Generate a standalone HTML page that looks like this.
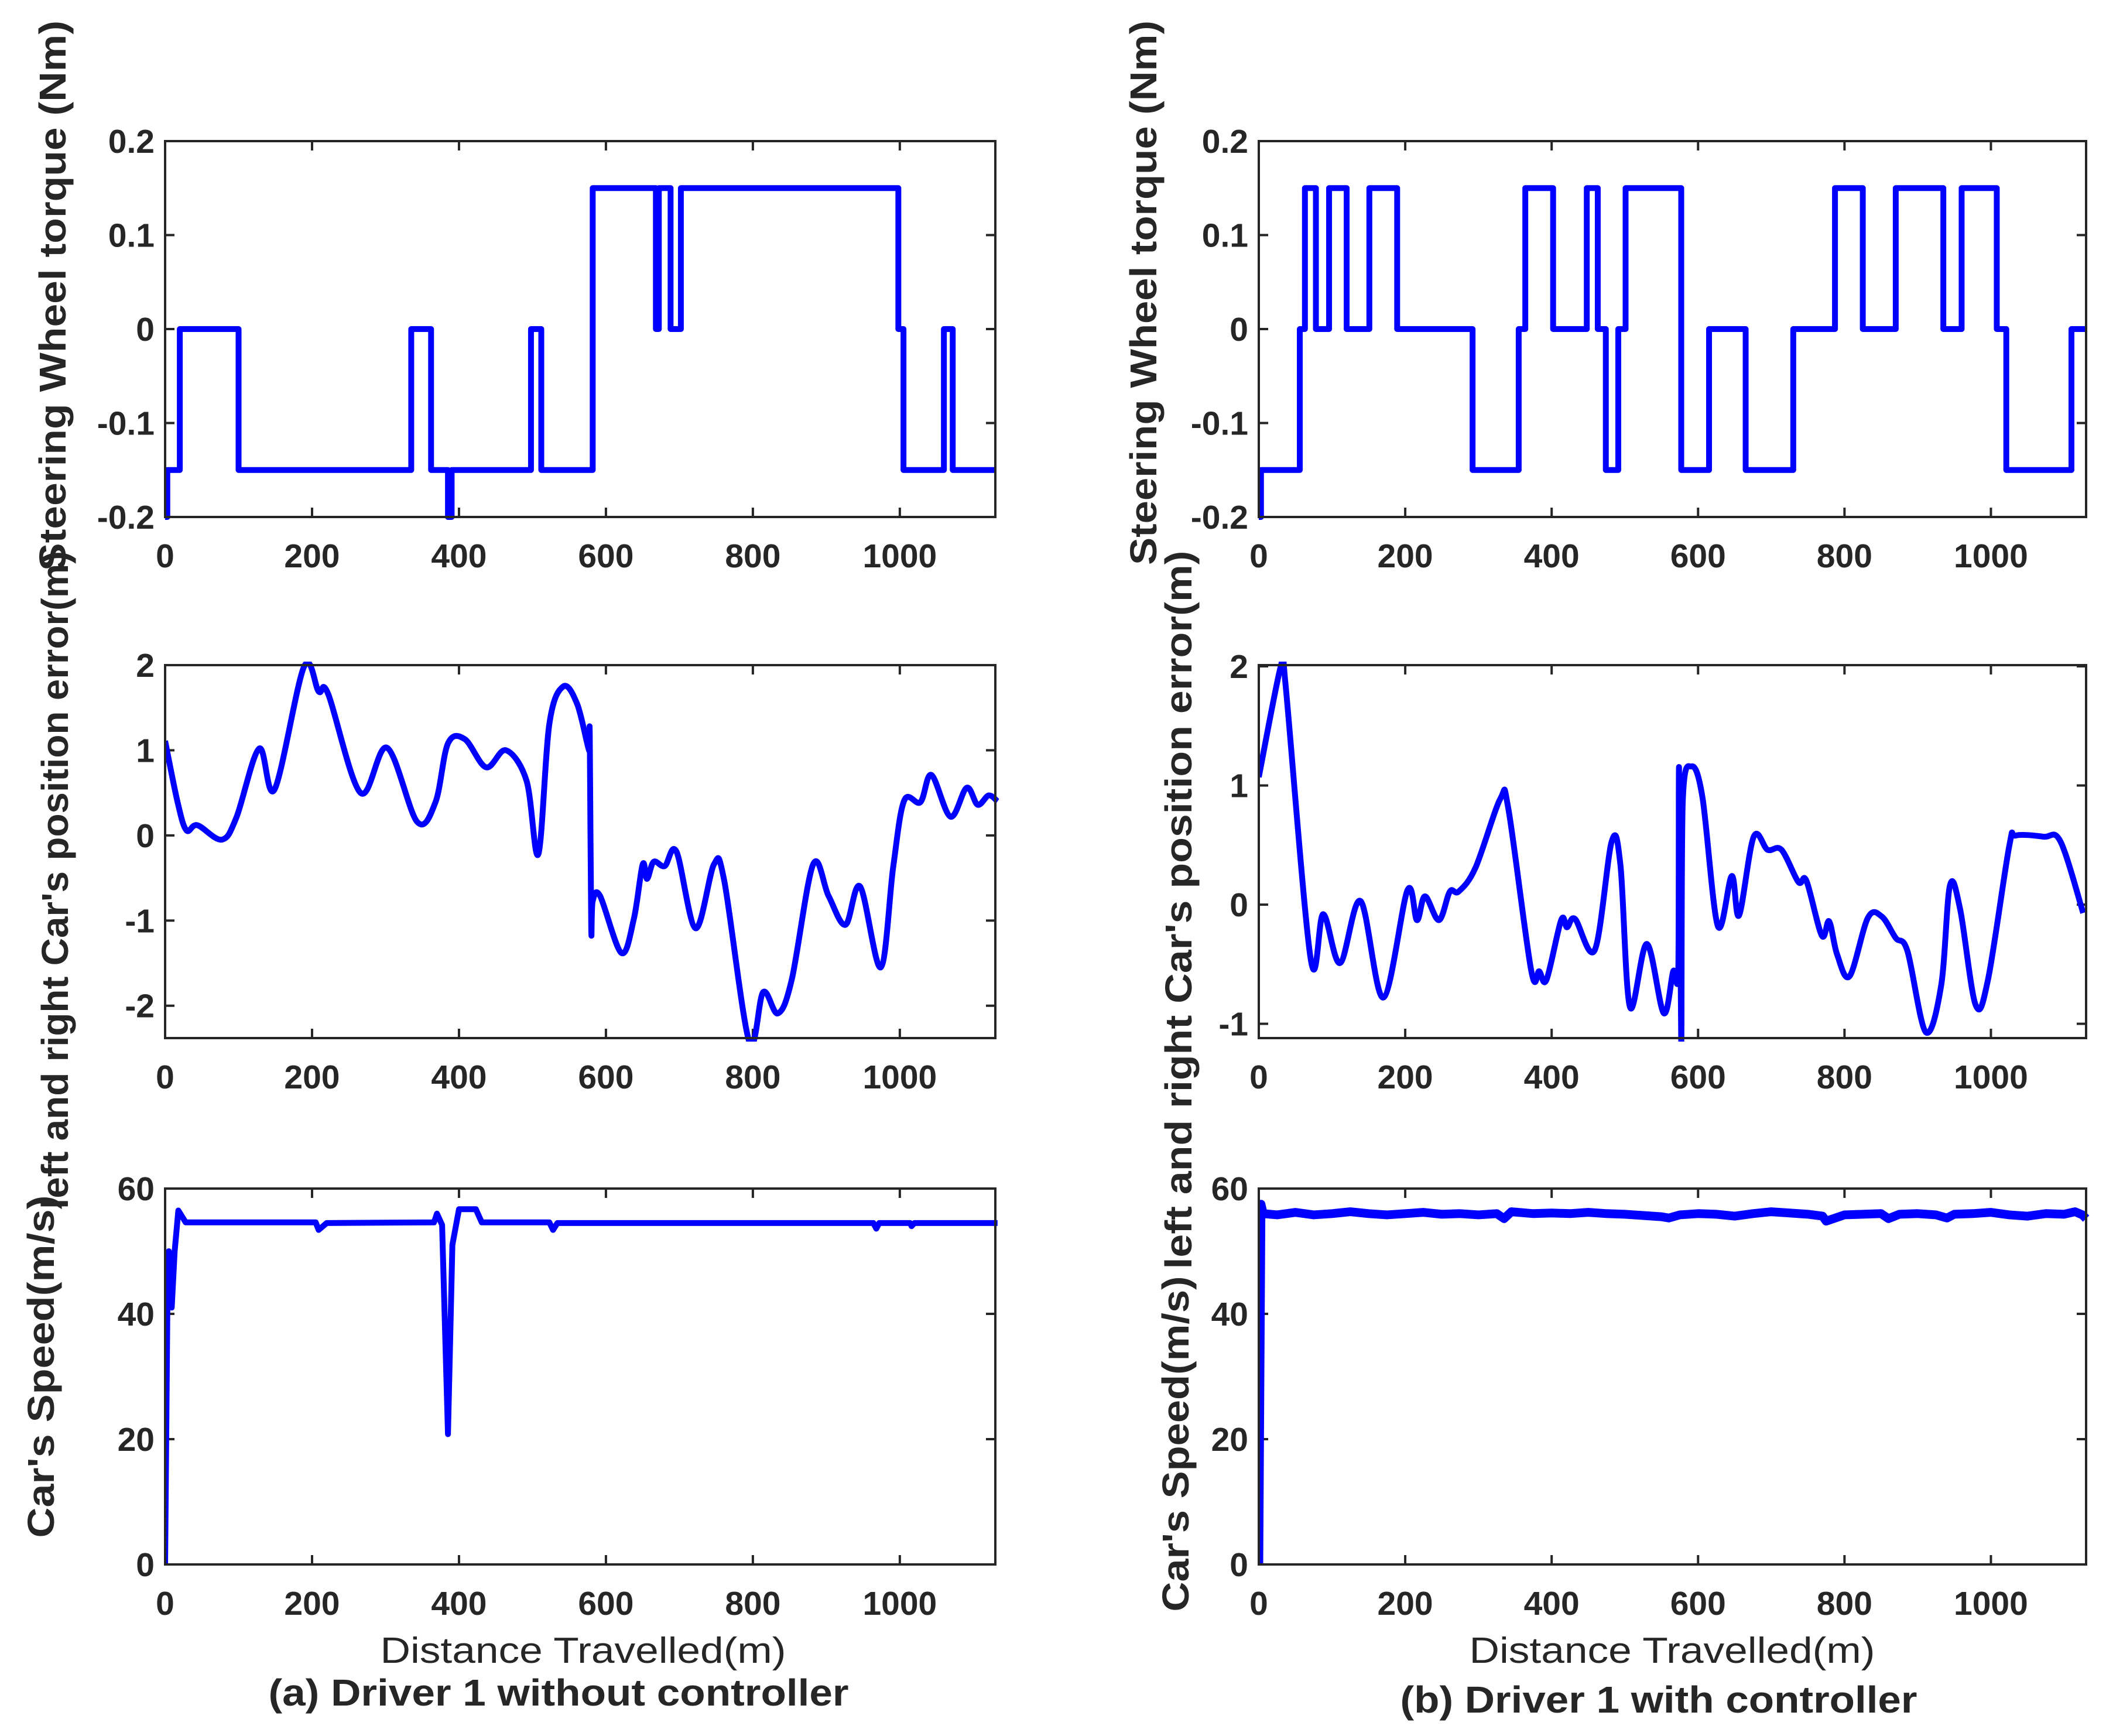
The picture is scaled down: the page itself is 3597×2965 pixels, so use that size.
<!DOCTYPE html>
<html><head><meta charset="utf-8"><style>
html,body{margin:0;padding:0;background:#fff}
svg{display:block}
text{font-family:"Liberation Sans",Arial,sans-serif;fill:#262626}
</style></head><body>
<svg id="fig" width="3597" height="2965" viewBox="0 0 3597 2965" xmlns="http://www.w3.org/2000/svg">
<rect width="3597" height="2965" fill="#fff"/>
<text x="996" y="2840" font-size="62" text-anchor="middle" textLength="693" lengthAdjust="spacingAndGlyphs">Distance Travelled(m)</text>
<text x="2856" y="2840" font-size="62" text-anchor="middle" textLength="693" lengthAdjust="spacingAndGlyphs">Distance Travelled(m)</text>
<text x="954" y="2913" font-size="64" font-weight="bold" text-anchor="middle" fill="#000" textLength="991" lengthAdjust="spacingAndGlyphs">(a) Driver 1 without controller</text>
<text x="2833" y="2925" font-size="64" font-weight="bold" text-anchor="middle" textLength="883" lengthAdjust="spacingAndGlyphs">(b) Driver 1 with controller</text>
</svg>
<script>
// ---- data ----
const xTicks=[0,200,400,600,800,1000];
const torqueTicks=[-0.2,-0.1,0,0.1,0.2];
const torqueTickLabels=["-0.2","-0.1","0","0.1","0.2"];
const errATicks=[-2,-1,0,1,2];
const errBTicks=[-1,0,1,2];
const speedTicks=[0,20,40,60];

const torqueA_x=[0,3,20,100,335,362,385,390,498,512,582,668,672,688,702,998,1005,1060,1072,1130];
const torqueA_v=[-0.2,-0.15,0,-0.15,0,-0.15,-0.2,-0.15,0,-0.15,0.15,0,0.15,0,0.15,0,-0.15,0,-0.15,-0.15];
const torqueB_x=[0,3,56,63,78,96,120,151,189,292,355,364,402,448,463,474,491,501,577,615,665,730,787,825,870,935,960,1008,1021,1110,1130];
const torqueB_v=[-0.2,-0.15,0,0.15,0,0.15,0,0.15,0,-0.15,0,0.15,0,0.15,0,-0.15,0,0.15,-0.15,0,-0.15,0,0.15,0,0.15,0,0.15,0,-0.15,0,0];

const errA_x=[0,17,29,44,77,97,128,149,189,209,222,266,302,343,368,385,408,437,464,492,508,523,542,561,577,578,580,582,592,621,638,650,656,665,680,696,722,747,761,795,814,834,853,882,903,926,946,974,991,1006,1028,1043,1069,1091,1106,1121,1133];
const errA_v=[1.11,0.39,0.06,0.12,-0.05,0.21,1.02,0.54,1.98,1.69,1.66,0.50,1.03,0.16,0.39,1.08,1.13,0.80,1.00,0.64,-0.22,1.31,1.75,1.54,1.00,1.17,-1.08,-0.77,-0.71,-1.38,-0.98,-0.34,-0.51,-0.31,-0.36,-0.19,-1.09,-0.34,-0.53,-2.42,-1.84,-2.09,-1.69,-0.34,-0.71,-1.05,-0.60,-1.55,-0.37,0.41,0.39,0.71,0.22,0.56,0.36,0.47,0.40];
const errB_x=[0,30,36,71,88,111,139,170,203,216,227,246,261,273,296,330,341,372,383,393,413,421,432,459,482,494,507,530,553,566,573,574,577,579,591,606,627,646,656,676,695,714,737,748,769,779,790,807,832,851,870,886,911,932,944,958,979,996,1025,1034,1072,1095,1126];
const errB_v=[1.07,2.0,1.88,-0.46,-0.08,-0.49,0.03,-0.78,0.12,-0.13,0.07,-0.13,0.11,0.11,0.31,0.89,0.80,-0.55,-0.56,-0.63,-0.13,-0.19,-0.12,-0.38,0.53,0.33,-0.86,-0.33,-0.91,-0.56,-0.55,1.15,-1.16,0.85,1.16,0.90,-0.18,0.24,-0.09,0.57,0.46,0.46,0.19,0.20,-0.26,-0.14,-0.42,-0.60,-0.11,-0.10,-0.28,-0.39,-1.07,-0.68,0.16,-0.04,-0.84,-0.63,0.49,0.58,0.57,0.53,-0.07];

const speedA_x=[0,3,5,9,13,18,28,205,209,220,366,370,377,385,391,400,423,431,523,528,534,964,968,972,1014,1016,1020,1133];
const speedA_v=[0,40,50,41,50,56.5,54.6,54.6,53.4,54.5,54.6,56,54.2,20.8,51,56.7,56.7,54.6,54.6,53.4,54.5,54.5,53.6,54.5,54.5,54,54.5,54.5];
const speedB_x=[0,3,6,25,50,75,100,125,150,175,200,225,250,275,300,325,335,345,375,400,425,450,475,500,525,550,560,575,600,625,650,675,700,725,750,770,775,800,825,850,860,875,900,925,940,950,975,1000,1025,1050,1075,1100,1115,1125,1130];
const speedB_v=[0,57.5,56,55.8,56.2,55.8,56,56.3,56,55.8,56,56.2,55.9,56,55.8,56,55.2,56.3,56,56.1,56,56.2,56,55.9,55.7,55.5,55.3,55.8,56,55.9,55.6,56,56.3,56.1,55.9,55.6,54.8,55.8,55.9,56,55.2,55.9,56,55.8,55.3,55.9,56,56.2,55.8,55.6,56,55.9,56.3,55.8,55.2];

// ---- layout ----
const svg=document.getElementById('fig');
const NS='http://www.w3.org/2000/svg';
const XMAX=1130;
function mk(tag,attrs,parent){const e=document.createElementNS(NS,tag);for(const k in attrs)e.setAttribute(k,attrs[k]);(parent||svg).appendChild(e);return e;}

function panel(o){
  const g=mk('g',{});
  
  
  const sx=v=>o.x0+(v/XMAX)*(o.x1-o.x0);
  const sy=v=>o.y1-(v-o.ymin)/(o.ymax-o.ymin)*(o.y1-o.y0);
  const cid='clip-'+o.name;
  const cp=mk('clipPath',{id:cid},g);
  mk('rect',{x:o.x0,y:o.y0-6,width:o.x1-o.x0+10,height:o.y1-o.y0+12},cp);
  xTicks.forEach(t=>{
    const X=sx(t);
    mk('line',{x1:X,x2:X,y1:o.y1,y2:o.y1-16,stroke:'#262626','stroke-width':4},g);
    mk('line',{x1:X,x2:X,y1:o.y0,y2:o.y0+16,stroke:'#262626','stroke-width':4},g);
    const tl=mk('text',{x:X,y:o.y1+86,'font-size':57,'font-weight':'bold','text-anchor':'middle'},g);
    
    
    tl.textContent=String(t);
  });
  o.yticks.forEach((t,i)=>{
    const Y=sy(t);
    mk('line',{x1:o.x0,x2:o.x0+16,y1:Y,y2:Y,stroke:'#262626','stroke-width':4},g);
    mk('line',{x1:o.x1,x2:o.x1-16,y1:Y,y2:Y,stroke:'#262626','stroke-width':4},g);
    const tl=mk('text',{x:o.x0-18,y:Y+20,'font-size':57,'font-weight':'bold','text-anchor':'end'},g);
    
    
    tl.textContent=o.ylabels?o.ylabels[i]:String(t);
  });
  let d='';
  const P=o.xs.map((x,i)=>[sx(x),sy(o.vs[i])]);
  if(o.step){
    P.forEach((p,i)=>{
      if(i===0)d+='M'+p[0]+' '+p[1];
      else d+=' L'+p[0]+' '+P[i-1][1]+' L'+p[0]+' '+p[1];
    });
  } else if(o.smooth){
    d='M'+P[0][0]+' '+P[0][1];
    for(let i=0;i<P.length-1;i++){
      const p0=P[Math.max(0,i-1)],p1=P[i],p2=P[i+1],p3=P[Math.min(P.length-1,i+2)];
      const t=1/6;
      let c1x=p1[0]+(p2[0]-p0[0])*t,c1y=p1[1]+(p2[1]-p0[1])*t;
      let c2x=p2[0]-(p3[0]-p1[0])*t,c2y=p2[1]-(p3[1]-p1[1])*t;
      c1x=Math.min(Math.max(c1x,p1[0]),p2[0]);c2x=Math.min(Math.max(c2x,p1[0]),p2[0]);
      d+=' C'+c1x+' '+c1y+' '+c2x+' '+c2y+' '+p2[0]+' '+p2[1];
    }
  } else {
    P.forEach((p,i)=>{d+=(i?' L':'M')+p[0]+' '+p[1];});
  }
  const p=mk('path',{d:d,fill:'none',stroke:'#0000ff','stroke-width':o.sw||10,'stroke-linejoin':'round','clip-path':'url(#'+cid+')'},g);
  
  
  mk('rect',{x:o.x0,y:o.y0,width:o.x1-o.x0,height:o.y1-o.y0,fill:'none',stroke:'#262626','stroke-width':4},g);
  const yl=mk('text',{x:0,y:0,'font-size':64,'font-weight':'bold','text-anchor':'middle',
    transform:'translate('+o.lx+','+o.ly+') rotate(-90)',textLength:o.llen,lengthAdjust:'spacingAndGlyphs'},g);
  
  
  yl.textContent=o.label;
}

const AX=[282,1700], BX=[2150,3563];
const R1=[241,883], R2=[1136,1773], R3=[2030,2672];

panel({name:'torque-a',x0:AX[0],x1:AX[1],y0:R1[0],y1:R1[1],ymin:-0.2,ymax:0.2,yticks:torqueTicks,ylabels:torqueTickLabels,xs:torqueA_x,vs:torqueA_v,step:true,label:'Steering Wheel torque (Nm)',lx:112,ly:505,llen:940});
panel({name:'torque-b',x0:BX[0],x1:BX[1],y0:R1[0],y1:R1[1],ymin:-0.2,ymax:0.2,yticks:torqueTicks,ylabels:torqueTickLabels,xs:torqueB_x,vs:torqueB_v,step:true,label:'Steering Wheel torque (Nm)',lx:1975,ly:500,llen:930});
panel({name:'error-a',x0:AX[0],x1:AX[1],y0:R2[0],y1:R2[1],ymin:-2.38,ymax:2,yticks:errATicks,xs:errA_x,vs:errA_v,smooth:true,label:"left and right Car's position error(m)",lx:116,ly:1503,llen:1124});
panel({name:'error-b',x0:BX[0],x1:BX[1],y0:R2[0],y1:R2[1],ymin:-1.12,ymax:2.01,yticks:errBTicks,xs:errB_x,vs:errB_v,smooth:true,label:"left and right Car's position error(m)",lx:2035,ly:1554,llen:1227});
panel({name:'speed-a',x0:AX[0],x1:AX[1],y0:R3[0],y1:R3[1],ymin:0,ymax:60,yticks:speedTicks,xs:speedA_x,vs:speedA_v,label:"Car's Speed(m/s)",lx:92,ly:2334,llen:585});
panel({name:'speed-b',x0:BX[0],x1:BX[1],y0:R3[0],y1:R3[1],ymin:0,ymax:60,yticks:speedTicks,xs:speedB_x,vs:speedB_v,sw:15,label:"Car's Speed(m/s)",lx:2030,ly:2466,llen:573});
</script>
</body></html>
